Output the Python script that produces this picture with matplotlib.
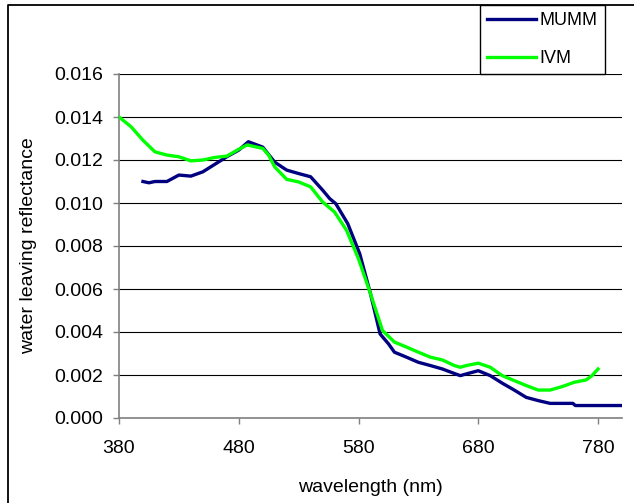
import matplotlib
matplotlib.use("Agg")
import matplotlib.pyplot as plt
from matplotlib.lines import Line2D

plt.rcParams['font.family'] = ['Liberation Sans', 'DejaVu Sans']

# wavelength (nm) and reflectance
mumm_wl = [400, 405, 410, 420, 430, 440, 450, 460, 470, 480, 488, 500, 510, 520,
           530, 540, 550, 556, 561, 571, 581, 590, 598, 605, 610, 620, 630, 640,
           650, 661, 665, 670, 680, 690, 700, 710, 720, 730, 740, 759, 761, 780, 800]
mumm_r = [0.0110, 0.01094, 0.0110, 0.0110, 0.0113, 0.01125, 0.01145, 0.0118, 0.01215,
          0.01246, 0.01285, 0.0126, 0.0119, 0.01153, 0.01137, 0.01122, 0.0106, 0.0102,
          0.00997, 0.00904, 0.00764, 0.00578, 0.00391, 0.00345, 0.00306, 0.00283,
          0.00259, 0.00244, 0.00228, 0.00205, 0.00197, 0.00205, 0.0022, 0.00197,
          0.00162, 0.0013, 0.00096, 0.00081, 0.00068, 0.00068, 0.00058, 0.00058, 0.00058]

ivm_wl = [380, 390, 400, 410, 420, 430, 440, 450, 460, 470, 480, 487, 500, 505, 510,
          520, 530, 540, 550, 560, 570, 580, 590, 600, 610, 620, 630, 640, 650, 660,
          665, 670, 680, 690, 700, 710, 720, 730, 740, 750, 760, 770, 775, 780]
ivm_r = [0.0140, 0.01355, 0.01292, 0.01238, 0.01223, 0.01215, 0.01196, 0.0120, 0.01212,
         0.01218, 0.0125, 0.0127, 0.01254, 0.01222, 0.01168, 0.0111, 0.01098, 0.01075,
         0.01005, 0.00958, 0.00873, 0.0074, 0.00578, 0.00407, 0.00353, 0.0033, 0.00306,
         0.00283, 0.0027, 0.00244, 0.00236, 0.00244, 0.00255, 0.00236, 0.00197, 0.00174,
         0.00151, 0.0013, 0.0013, 0.00146, 0.00166, 0.00177, 0.00197, 0.00228]

x_ticks = [380, 480, 580, 680, 780]
y_ticks = [0.000, 0.002, 0.004, 0.006, 0.008, 0.010, 0.012, 0.014, 0.016]

W, H = 634, 503
fig = plt.figure(figsize=(W / 100, H / 100), dpi=100)
ax = fig.add_axes([119 / W, 1 - 418 / H, (622 - 119) / W, (418 - 74) / H])

ax.plot(mumm_wl, mumm_r, color='#000080', lw=2.4, label='MUMM', zorder=3)
ax.plot(ivm_wl, ivm_r, color='#00FF00', lw=2.4, label='IVM', zorder=4)

ax.set_xlim(380, 800)
ax.set_ylim(0, 0.016)
ax.set_xticks(x_ticks)
ax.set_yticks(y_ticks)
ax.set_yticklabels(['%.3f' % v for v in y_ticks])

# black horizontal gridlines like the Excel chart
ax.yaxis.grid(True, color='black', lw=0.8)
ax.set_axisbelow(True)

for side in ['top', 'right']:
    ax.spines[side].set_visible(False)
for side in ['left', 'bottom']:
    ax.spines[side].set_color('#808080')
    ax.spines[side].set_linewidth(1.2)

ax.tick_params(axis='y', length=4.5, width=1, color='#808080', pad=7, labelsize=14)
ax.tick_params(axis='x', length=4.5, width=1, color='#808080', pad=11, labelsize=14)

ax.set_xlabel('wavelength (nm)', fontsize=14, labelpad=16)
ax.set_ylabel('water leaving reflectance', fontsize=14, labelpad=12)

leg = fig.legend(loc='upper left', bbox_to_anchor=(480 / W, 1 - 5 / H), fontsize=13,
                 frameon=True, fancybox=False, shadow=False, borderaxespad=0,
                 handlelength=2.7, handletextpad=0.2, labelspacing=1.15, borderpad=0.4)
leg.get_frame().set_edgecolor('black')
leg.get_frame().set_linewidth(1)
leg.get_frame().set_alpha(1)

# outer chart frame (left and top edges visible)
fig.add_artist(Line2D([8 / W, 8 / W, 1.0], [0.0, 1 - 5 / H, 1 - 5 / H],
                      transform=fig.transFigure, color='black', lw=1.3))

fig.savefig('out.png', dpi=100)
